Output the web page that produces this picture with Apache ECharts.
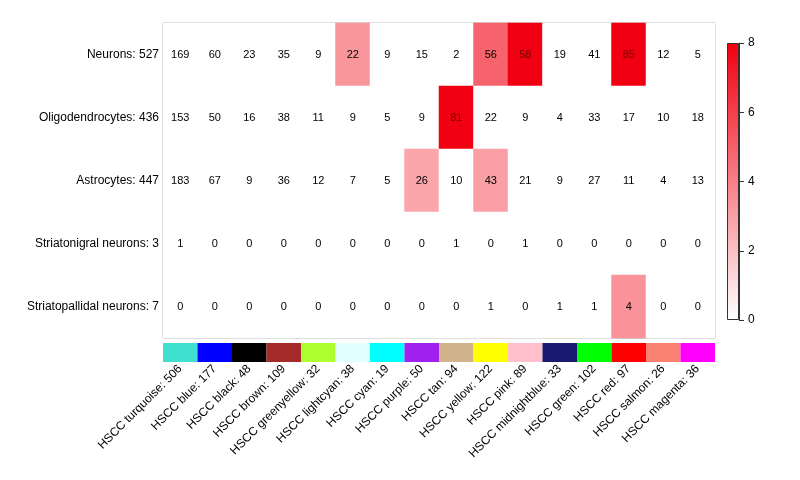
<!DOCTYPE html>
<html>
<head>
<meta charset="utf-8">
<script src="https://cdn.jsdelivr.net/npm/echarts@6/dist/echarts.min.js"></script>
<style>html,body{margin:0;padding:0;background:#fff;}#c{width:800px;height:480px;}</style>
</head>
<body>
<div id="c"></div>
<script>
var cellTypes = ['Neurons: 527', 'Oligodendrocytes: 436', 'Astrocytes: 447', 'Striatonigral neurons: 3', 'Striatopallidal neurons: 7'];
var modules = ['HSCC turquoise: 506', 'HSCC blue: 177', 'HSCC black: 48', 'HSCC brown: 109', 'HSCC greenyellow: 32', 'HSCC lightcyan: 38', 'HSCC cyan: 19', 'HSCC purple: 50', 'HSCC tan: 94', 'HSCC yellow: 122', 'HSCC pink: 89', 'HSCC midnightblue: 33', 'HSCC green: 102', 'HSCC red: 97', 'HSCC salmon: 26', 'HSCC magenta: 36'];
var moduleColors = ['#40E0D0', '#0000FF', '#000000', '#A52A2A', '#ADFF2F', '#E0FFFF', '#00FFFF', '#A020F0', '#D2B48C', '#FFFF00', '#FFC0CB', '#191970', '#00FF00', '#FF0000', '#FA8072', '#FF00FF'];
var countsNeurons = [169, 60, 23, 35, 9, 22, 9, 15, 2, 56, 58, 19, 41, 85, 12, 5];
var countsOligo = [153, 50, 16, 38, 11, 9, 5, 9, 81, 22, 9, 4, 33, 17, 10, 18];
var countsAstro = [183, 67, 9, 36, 12, 7, 5, 26, 10, 43, 21, 9, 27, 11, 4, 13];
var countsNigral = [1, 0, 0, 0, 0, 0, 0, 0, 1, 0, 1, 0, 0, 0, 0, 0];
var countsPallidal = [0, 0, 0, 0, 0, 0, 0, 0, 0, 1, 0, 1, 1, 4, 0, 0];
var logpNeurons = [0, 0, 0, 0, 0, 3.3, 0, 0, 0, 4.9, 8, 0, 0, 8, 0, 0];
var logpOligo = [0, 0, 0, 0, 0, 0, 0, 0, 8, 0, 0, 0, 0, 0, 0, 0];
var logpAstro = [0, 0, 0, 0, 0, 0, 0, 2.8, 0, 3.0, 0, 0, 0, 0, 0, 0];
var logpNigral = [0, 0, 0, 0, 0, 0, 0, 0, 0, 0, 0, 0, 0, 0, 0, 0];
var logpPallidal = [0, 0, 0, 0, 0, 0, 0, 0, 0, 0, 0, 0, 0, 3.4, 0, 0];
var colorTicks = [0, 8, 2];

var countRows = [countsNeurons, countsOligo, countsAstro, countsNigral, countsPallidal];
var logpRows = [logpNeurons, logpOligo, logpAstro, logpNigral, logpPallidal];
var heat = [];
for (var r = 0; r < cellTypes.length; r++) {
  for (var c = 0; c < modules.length; c++) {
    var v = logpRows[r][c];
    heat.push({
      value: [c, r, v, countRows[r][c]],
      label: { color: v >= 7 ? '#7a0000' : '#000' }
    });
  }
}
var font = 'Liberation Sans, Arial, sans-serif';
var chart = echarts.init(document.getElementById('c'), null, { renderer: 'canvas' });
chart.setOption({
  animation: false,
  backgroundColor: '#fff',
  grid: [
    { left: 163, right: 85, top: 23, bottom: 142, show: true, borderColor: '#a8a8a8', borderWidth: 1, backgroundColor: 'transparent' },
    { left: 163, right: 85, top: 343, height: 19 },
    { left: 727, width: 12, top: 43, height: 277 }
  ],
  xAxis: [
    { gridIndex: 0, type: 'category', data: modules, axisLine: { show: false }, axisTick: { show: false }, axisLabel: { show: false }, splitLine: { show: false } },
    { gridIndex: 1, type: 'category', data: modules, axisLine: { show: false }, axisTick: { show: false },
      axisLabel: { interval: 0, rotate: 45, margin: 5, fontSize: 12, color: '#000', fontFamily: font } },
    { gridIndex: 2, type: 'category', data: ['scale'], show: false }
  ],
  yAxis: [
    { gridIndex: 0, type: 'category', data: cellTypes, inverse: true, axisLine: { show: false }, axisTick: { show: false },
      axisLabel: { margin: 4, fontSize: 12, color: '#000', fontFamily: font }, splitLine: { show: false } },
    { gridIndex: 1, type: 'value', min: 0, max: 1, show: false },
    { gridIndex: 2, type: 'value', min: colorTicks[0], max: colorTicks[1], interval: colorTicks[2], position: 'right',
      axisLine: { show: true, lineStyle: { color: '#333' } }, axisTick: { show: true, length: 5, lineStyle: { color: '#333' } },
      axisLabel: { margin: 9, fontSize: 12, color: '#000', fontFamily: font }, splitLine: { show: false } }
  ],
  visualMap: {
    show: false, seriesIndex: 0, dimension: 2, min: 0, max: 8,
    inRange: { color: ['#ffffff', '#f00010'] }
  },
  series: [
    { type: 'heatmap', xAxisIndex: 0, yAxisIndex: 0, data: heat,
      label: { show: true, fontSize: 11, fontFamily: font, formatter: function (p) { return p.value[3]; } },
      itemStyle: { borderWidth: 0 } },
    { type: 'bar', xAxisIndex: 1, yAxisIndex: 1, barWidth: '100%', silent: true,
      data: moduleColors.map(function (col) { return { value: 1, itemStyle: { color: col } }; }) },
    { type: 'bar', xAxisIndex: 2, yAxisIndex: 2, barWidth: '100%', silent: true,
      data: [colorTicks[1]],
      itemStyle: { borderColor: '#333', borderWidth: 1,
        color: new echarts.graphic.LinearGradient(0, 0, 0, 1, [{ offset: 0, color: '#f00010' }, { offset: 1, color: '#ffffff' }]) } }
  ]
});
</script>
</body>
</html>
